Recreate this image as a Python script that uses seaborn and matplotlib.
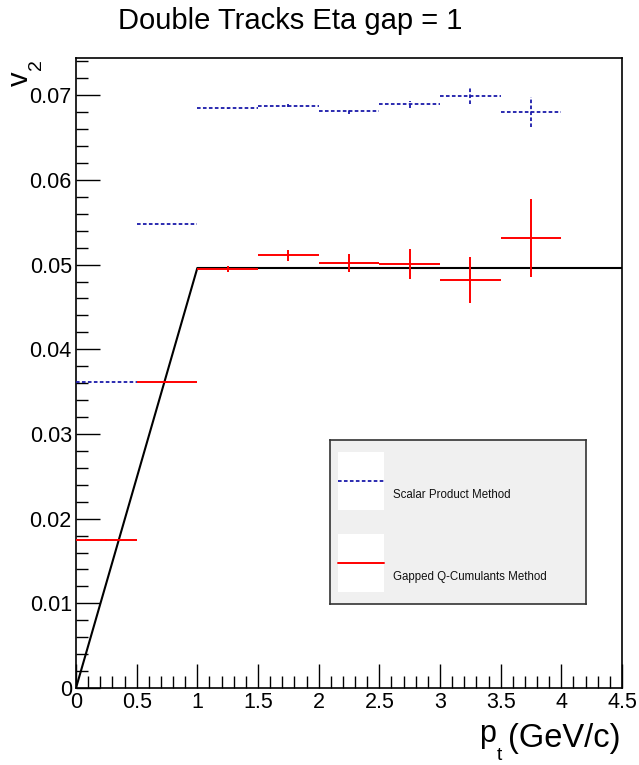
import numpy as np
import pandas as pd
import matplotlib
matplotlib.use("Agg")
import matplotlib.pyplot as plt
import seaborn as sns
from matplotlib.ticker import MultipleLocator
from matplotlib.patches import Rectangle

# ---- data ----
bin_lo = [0.0, 0.5, 1.0, 1.5, 2.0, 2.5, 3.0, 3.5]
bin_hi = [0.5, 1.0, 1.5, 2.0, 2.5, 3.0, 3.5, 4.0]
sp_v2 = [0.03613, 0.05478, 0.06844, 0.06878, 0.06812, 0.06891, 0.06986, 0.06800]
sp_err = [0.00002, 0.00002, 0.00010, 0.00018, 0.00028, 0.00045, 0.00094, 0.00180]
qc_v2 = [0.01744, 0.03617, 0.04951, 0.05108, 0.05022, 0.05006, 0.04821, 0.05313]
qc_err = [0.00010, 0.00012, 0.00035, 0.00060, 0.00104, 0.00175, 0.00270, 0.00460]
input_pt = [0.0, 1.0, 4.5]
input_v2 = [0.0, 0.0496, 0.0496]

x_ticks = [0, 0.5, 1, 1.5, 2, 2.5, 3, 3.5, 4, 4.5]
x_tick_labels = ["0", "0.5", "1", "1.5", "2", "2.5", "3", "3.5", "4", "4.5"]
y_ticks = [0, 0.01, 0.02, 0.03, 0.04, 0.05, 0.06, 0.07]
y_tick_labels = ["0", "0.01", "0.02", "0.03", "0.04", "0.05", "0.06", "0.07"]

title = "Double Tracks Eta gap = 1"
sp_label = "Scalar Product Method"
qc_label = "Gapped Q-Cumulants Method"

sns.set_style("white")
plt.rcParams['font.family'] = ['Liberation Sans', 'DejaVu Sans']

BLUE = '#1a1aaa'
RED = '#ff0000'
DASH = (0, (2.0, 1.3))

fig = plt.figure(figsize=(6.39, 7.65), dpi=100)
ax = fig.add_axes([76/639, 77/765, 546/639, 630/765])

lo = np.array(bin_lo); hi = np.array(bin_hi)
centers = (lo + hi) / 2
half = (hi - lo) / 2

df_in = pd.DataFrame({"pt": input_pt, "v2": input_v2})
sns.lineplot(data=df_in, x="pt", y="v2", color="black", lw=1.5, ax=ax, zorder=2)

eb = ax.errorbar(centers, sp_v2, xerr=half, yerr=sp_err, fmt='none',
                 ecolor=BLUE, elinewidth=1.3, capsize=0, zorder=3)
for c in eb[2]:
    c.set_linestyle(DASH)
ax.errorbar(centers, qc_v2, xerr=half, yerr=qc_err, fmt='none',
            ecolor=RED, elinewidth=1.4, capsize=0, zorder=4)

ax.set_xlim(0, 4.5)
ax.set_ylim(0, 0.0744)
ax.xaxis.set_minor_locator(MultipleLocator(0.1))
ax.yaxis.set_minor_locator(MultipleLocator(0.002))
ax.set_xticks(x_ticks)
ax.set_xticklabels(x_tick_labels)
ax.set_yticks(y_ticks)
ax.set_yticklabels(y_tick_labels)
ax.tick_params(axis='both', which='major', direction='in', length=17, width=1,
               labelsize=15.5, color='black', labelcolor='black',
               top=False, right=False, bottom=True, left=True)
ax.tick_params(axis='both', which='minor', direction='in', length=8.5, width=1,
               color='black', top=False, right=False, bottom=True, left=True)
ax.tick_params(axis='x', which='major', pad=3)
ax.tick_params(axis='y', which='major', pad=3)
for s in ax.spines.values():
    s.set_color('black'); s.set_linewidth(1.2); s.set_visible(True)
ax.set_xlabel(""); ax.set_ylabel("")

fig.text(290.5/639, 1 - 21/765, title, ha='center', va='center', fontsize=21, color='black')
# x label  p_t (GeV/c)
fig.text(621/639, 1 - 739/765, "(GeV/c)", ha='right', va='center', fontsize=23.5, color='black')
fig.text(496/639, 1 - 734/765, "p", ha='right', va='center', fontsize=22, color='black')
fig.text(496.5/639, 1 - 756/765, "t", ha='left', va='center', fontsize=14, color='black')
# y label v_2
fig.text(20/639, 1 - 79/765, "v", ha='center', va='center', fontsize=21, rotation=90, color='black')
fig.text(36/639, 1 - 65/765, "2", ha='center', va='center', fontsize=14, rotation=90, color='black')

# legend box
lg = fig.add_axes([330/639, 1 - 604/765, 256/639, 164/765])
lg.set_facecolor('#f0f0f0')
lg.set_xlim(0, 1); lg.set_ylim(0, 1)
lg.set_xticks([]); lg.set_yticks([])
for s in lg.spines.values():
    s.set_color('#333333'); s.set_linewidth(1.2)
lg.add_patch(Rectangle((0.031, 0.573), 0.18, 0.354, facecolor='white', edgecolor='none'))
lg.add_patch(Rectangle((0.031, 0.073), 0.18, 0.354, facecolor='white', edgecolor='none'))
lg.plot([0.031, 0.211], [0.75, 0.75], color=BLUE, lw=1.3, ls=DASH)
lg.plot([0.031, 0.211], [0.25, 0.25], color=RED, lw=1.4)
lg.text(0.246, 0.665, sp_label, fontsize=8.3, va='center', ha='left', color='#111111')
lg.text(0.246, 0.165, qc_label, fontsize=8.3, va='center', ha='left', color='#111111')

fig.savefig("out.png", dpi=100, facecolor='white')
